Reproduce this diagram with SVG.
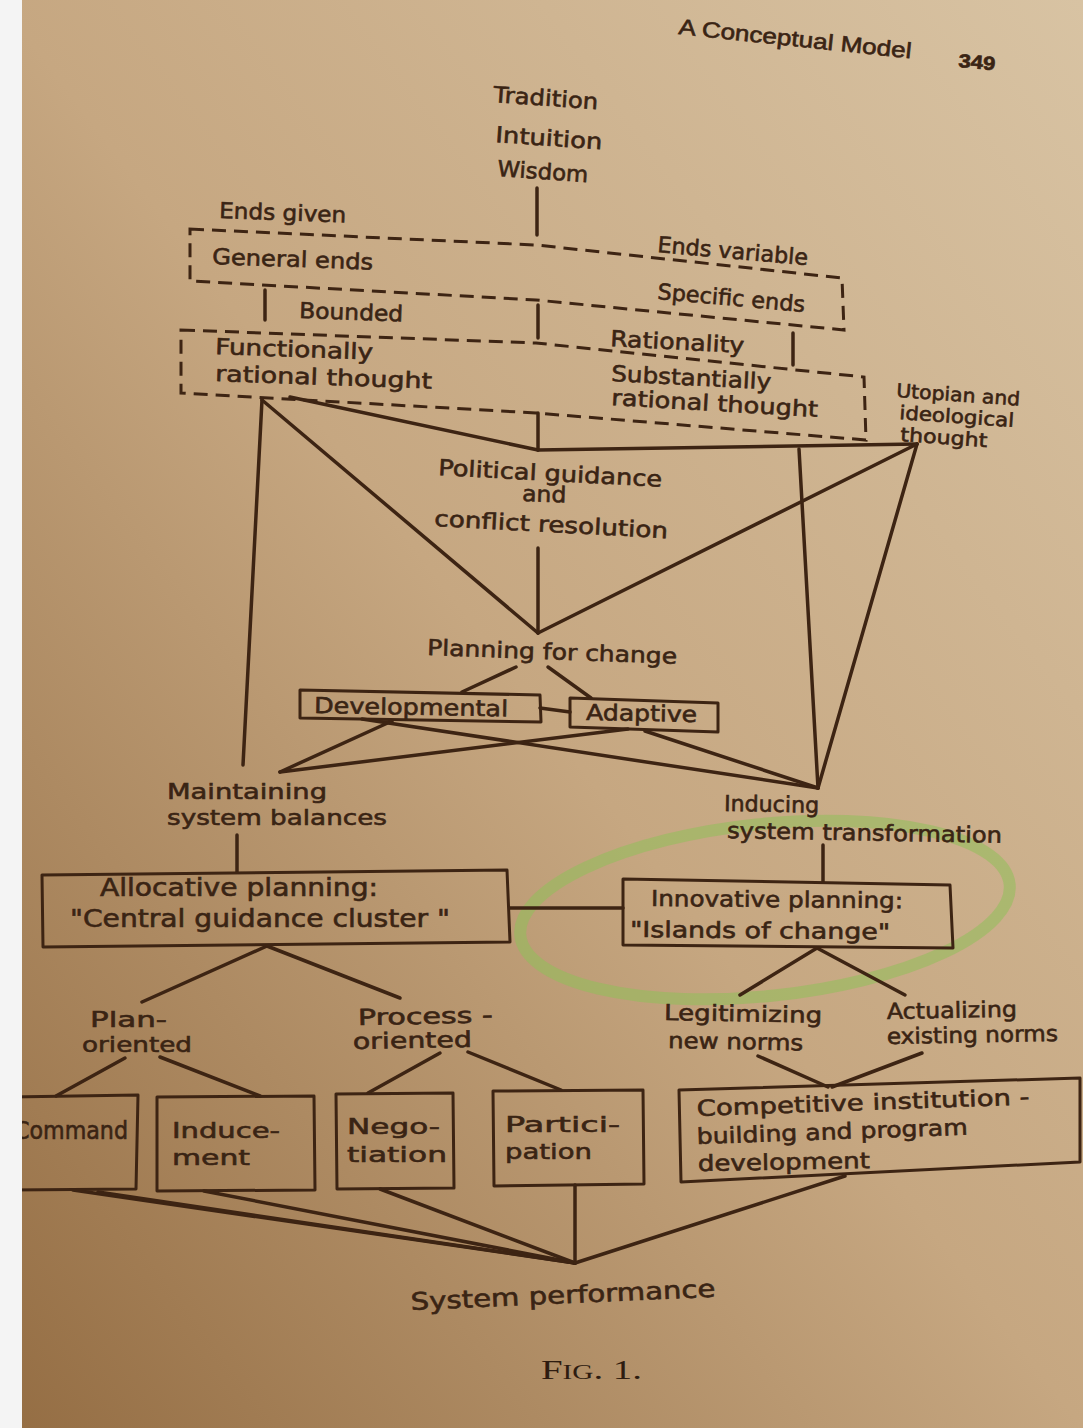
<svg xmlns="http://www.w3.org/2000/svg" width="1083" height="1428" viewBox="0 0 1083 1428">
<defs>
<linearGradient id="page" x1="1" y1="0" x2="0" y2="1">
<stop offset="0" stop-color="#d8c3a3"/>
<stop offset="0.5" stop-color="#c6a781"/>
<stop offset="1" stop-color="#946d43"/>
</linearGradient>
<style>
.t{font-family:"DejaVu Sans","Liberation Sans",sans-serif;font-size:22px;fill:#3a2414;stroke:#3a2414;stroke-width:0.6;}
.s{font-size:19px;}
.b{font-size:24px;}
.ln{stroke:#3d2413;stroke-width:3.5;fill:none;stroke-linecap:round;stroke-linejoin:round;}
.box{stroke:#3d2413;stroke-width:3;fill:none;stroke-linejoin:round;}
.dash{stroke:#3d2413;stroke-width:3;fill:none;stroke-dasharray:14 8;}
</style>
</defs>
<rect x="0" y="0" width="1083" height="1428" fill="url(#page)"/>

<g id="header">
<text class="t" x="678" y="34" textLength="234" lengthAdjust="spacingAndGlyphs" transform="rotate(6 678 34)" style="font-family:'Liberation Sans',sans-serif">A Conceptual Model</text>
<text class="t" x="958" y="67" textLength="37" lengthAdjust="spacingAndGlyphs" transform="rotate(5 958 67)" style="font-family:'Liberation Sans',sans-serif;font-weight:bold;font-size:19px">349</text>
</g>

<g id="green-loop">
<ellipse cx="765" cy="910" rx="246" ry="86" transform="rotate(-6 765 910)" fill="none" stroke="#8fbf5a" stroke-width="12" stroke-opacity="0.55"/>
</g>

<g id="connectors">
<line class="ln" x1="537" y1="188" x2="537" y2="235"/>
<line class="ln" x1="265" y1="290" x2="265" y2="320"/>
<line class="ln" x1="538" y1="305" x2="538" y2="338"/>
<line class="ln" x1="793" y1="333" x2="793" y2="365"/>
<line class="ln" x1="262" y1="400" x2="243" y2="765"/>
<line class="ln" x1="262" y1="400" x2="538" y2="633"/>
<line class="ln" x1="290" y1="397" x2="538" y2="450"/>
<line class="ln" x1="538" y1="413" x2="538" y2="450"/>
<line class="ln" x1="538" y1="450" x2="917" y2="444"/>
<line class="ln" x1="799" y1="449" x2="818" y2="788"/>
<line class="ln" x1="917" y1="444" x2="818" y2="788"/>
<line class="ln" x1="917" y1="444" x2="538" y2="633"/>
<line class="ln" x1="538" y1="548" x2="538" y2="633"/>
<line class="ln" x1="516" y1="667" x2="462" y2="692"/>
<line class="ln" x1="548" y1="667" x2="591" y2="698"/>
<line class="ln" x1="540" y1="708" x2="570" y2="712"/>
<line class="ln" x1="392" y1="721" x2="280" y2="772"/>
<line class="ln" x1="362" y1="719" x2="818" y2="788"/>
<line class="ln" x1="628" y1="729" x2="280" y2="772"/>
<line class="ln" x1="645" y1="731" x2="818" y2="788"/>
<line class="ln" x1="237" y1="835" x2="237" y2="872"/>
<line class="ln" x1="823" y1="845" x2="823" y2="882"/>
<line class="ln" x1="510" y1="908" x2="623" y2="908"/>
<line class="ln" x1="267" y1="946" x2="142" y2="1002"/>
<line class="ln" x1="267" y1="946" x2="400" y2="998"/>
<line class="ln" x1="817" y1="948" x2="740" y2="995"/>
<line class="ln" x1="817" y1="948" x2="905" y2="995"/>
<line class="ln" x1="125" y1="1058" x2="56" y2="1096"/>
<line class="ln" x1="160" y1="1057" x2="260" y2="1096"/>
<line class="ln" x1="440" y1="1053" x2="368" y2="1093"/>
<line class="ln" x1="468" y1="1052" x2="561" y2="1090"/>
<line class="ln" x1="758" y1="1056" x2="828" y2="1087"/>
<line class="ln" x1="922" y1="1053" x2="832" y2="1087"/>
<line class="ln" x1="73" y1="1190" x2="575" y2="1263"/>
<line class="ln" x1="98" y1="1192" x2="575" y2="1263"/>
<line class="ln" x1="204" y1="1191" x2="575" y2="1263"/>
<line class="ln" x1="380" y1="1189" x2="575" y2="1263"/>
<line class="ln" x1="575" y1="1185" x2="575" y2="1263"/>
<line class="ln" x1="845" y1="1176" x2="575" y2="1263"/>
</g>

<g id="n-sources">
<text class="t" x="493" y="102" textLength="105" lengthAdjust="spacingAndGlyphs" transform="rotate(4 493 102)">Tradition</text>
<text class="t" x="495" y="142" textLength="107" lengthAdjust="spacingAndGlyphs" transform="rotate(4 495 142)">Intuition</text>
<text class="t" x="497" y="176" textLength="91" lengthAdjust="spacingAndGlyphs" transform="rotate(4 497 176)">Wisdom</text>
</g>

<g id="n-ends">
<path class="dash" d="M190,229 L536,245 L842,278 L844,330 L536,300 L190,281 Z"/>
<text class="t" x="219" y="218" textLength="127" lengthAdjust="spacingAndGlyphs" transform="rotate(2 219 218)">Ends given</text>
<text class="t" x="212" y="264" textLength="161" lengthAdjust="spacingAndGlyphs" transform="rotate(2 212 264)">General ends</text>
<text class="t" x="657" y="252" textLength="151" lengthAdjust="spacingAndGlyphs" transform="rotate(5 657 252)">Ends variable</text>
<text class="t" x="657" y="299" textLength="148" lengthAdjust="spacingAndGlyphs" transform="rotate(5 657 299)">Specific ends</text>
</g>

<g id="n-rationality">
<path class="dash" d="M181,330 L536,343 L864,377 L866,440 L536,413 L181,393 Z"/>
<text class="t" x="299" y="318" textLength="104" lengthAdjust="spacingAndGlyphs" transform="rotate(2 299 318)">Bounded</text>
<text class="t" x="215" y="354" textLength="158" lengthAdjust="spacingAndGlyphs" transform="rotate(2 215 354)">Functionally</text>
<text class="t" x="215" y="381" textLength="217" lengthAdjust="spacingAndGlyphs" transform="rotate(2 215 381)">rational thought</text>
<text class="t" x="610" y="346" textLength="134" lengthAdjust="spacingAndGlyphs" transform="rotate(3 610 346)">Rationality</text>
<text class="t" x="611" y="381" textLength="160" lengthAdjust="spacingAndGlyphs" transform="rotate(3 611 381)">Substantially</text>
<text class="t" x="611" y="405" textLength="207" lengthAdjust="spacingAndGlyphs" transform="rotate(3.3 611 405)">rational thought</text>
</g>

<g id="n-utopian">
<text class="t s" x="896" y="397" textLength="124" lengthAdjust="spacingAndGlyphs" transform="rotate(4 896 397)">Utopian and</text>
<text class="t s" x="899" y="419" textLength="115" lengthAdjust="spacingAndGlyphs" transform="rotate(4 899 419)">ideological</text>
<text class="t s" x="900" y="441" textLength="87" lengthAdjust="spacingAndGlyphs" transform="rotate(4 900 441)">thought</text>
</g>

<g id="n-political">
<text class="t" x="438" y="475" textLength="224" lengthAdjust="spacingAndGlyphs" transform="rotate(3 438 475)">Political guidance</text>
<text class="t" x="522" y="501" textLength="44" lengthAdjust="spacingAndGlyphs" transform="rotate(2 522 501)">and</text>
<text class="t" x="434" y="526" textLength="234" lengthAdjust="spacingAndGlyphs" transform="rotate(3 434 526)">conflict resolution</text>
</g>

<g id="n-planning">
<text class="t" x="427" y="655" textLength="250" lengthAdjust="spacingAndGlyphs" transform="rotate(2 427 655)">Planning for change</text>
</g>

<g id="n-developmental">
<path class="box" d="M300,690 L540,695 L541,722 L300,718 Z"/>
<text class="t" x="314" y="713" textLength="194" lengthAdjust="spacingAndGlyphs" transform="rotate(1 314 713)">Developmental</text>
</g>

<g id="n-adaptive">
<path class="box" d="M570,698 L718,703 L718,732 L570,727 Z"/>
<text class="t" x="586" y="720" textLength="111" lengthAdjust="spacingAndGlyphs" transform="rotate(1 586 720)">Adaptive</text>
</g>

<g id="n-maintaining">
<text class="t" x="167" y="799" textLength="160" lengthAdjust="spacingAndGlyphs">Maintaining</text>
<text class="t" x="167" y="825" textLength="220" lengthAdjust="spacingAndGlyphs">system balances</text>
</g>

<g id="n-inducing">
<text class="t" x="724" y="811" textLength="95" lengthAdjust="spacingAndGlyphs" transform="rotate(1 724 811)">Inducing</text>
<text class="t" x="727" y="838" textLength="275" lengthAdjust="spacingAndGlyphs" transform="rotate(1 727 838)">system transformation</text>
</g>

<g id="n-allocative">
<path class="box" d="M42,875 L507,870 L510,942 L43,947 Z"/>
<text class="t b" x="100" y="896" textLength="278" lengthAdjust="spacingAndGlyphs">Allocative planning:</text>
<text class="t b" x="70" y="927" textLength="380" lengthAdjust="spacingAndGlyphs">"Central guidance cluster "</text>
</g>

<g id="n-innovative">
<path class="box" d="M623,879 L950,885 L953,948 L623,945 Z"/>
<text class="t" x="651" y="906" textLength="252" lengthAdjust="spacingAndGlyphs" transform="rotate(0.5 651 906)">Innovative planning:</text>
<text class="t" x="630" y="937" textLength="260" lengthAdjust="spacingAndGlyphs" transform="rotate(0.5 630 937)">"Islands of change"</text>
</g>

<g id="n-plan-oriented">
<text class="t" x="90" y="1027" textLength="77" lengthAdjust="spacingAndGlyphs">Plan-</text>
<text class="t" x="82" y="1052" textLength="110" lengthAdjust="spacingAndGlyphs">oriented</text>
</g>

<g id="n-process-oriented">
<text class="t" x="358" y="1025" textLength="135" lengthAdjust="spacingAndGlyphs" transform="rotate(-1 358 1025)">Process -</text>
<text class="t" x="353" y="1049" textLength="119" lengthAdjust="spacingAndGlyphs" transform="rotate(-1 353 1049)">oriented</text>
</g>

<g id="n-legitimizing">
<text class="t" x="664" y="1020" textLength="158" lengthAdjust="spacingAndGlyphs" transform="rotate(1 664 1020)">Legitimizing</text>
<text class="t" x="668" y="1048" textLength="135" lengthAdjust="spacingAndGlyphs" transform="rotate(1 668 1048)">new norms</text>
</g>

<g id="n-actualizing">
<text class="t" x="887" y="1019" textLength="130" lengthAdjust="spacingAndGlyphs" transform="rotate(-1 887 1019)">Actualizing</text>
<text class="t" x="887" y="1044" textLength="171" lengthAdjust="spacingAndGlyphs" transform="rotate(-1 887 1044)">existing norms</text>
</g>

<g id="n-command">
<path class="box" d="M10,1097 L138,1095 L136,1189 L10,1190"/>
<text class="t" x="14" y="1139" textLength="114" lengthAdjust="spacingAndGlyphs" style="font-size:24px">Command</text>
</g>

<g id="n-inducement">
<path class="box" d="M157,1097 L314,1096 L315,1190 L157,1191 Z"/>
<text class="t" x="172" y="1138" textLength="108" lengthAdjust="spacingAndGlyphs">Induce-</text>
<text class="t" x="172" y="1165" textLength="78" lengthAdjust="spacingAndGlyphs">ment</text>
</g>

<g id="n-negotiation">
<path class="box" d="M336,1094 L453,1093 L454,1188 L337,1189 Z"/>
<text class="t" x="347" y="1134" textLength="93" lengthAdjust="spacingAndGlyphs">Nego-</text>
<text class="t" x="347" y="1162" textLength="100" lengthAdjust="spacingAndGlyphs">tiation</text>
</g>

<g id="n-participation">
<path class="box" d="M493,1091 L643,1090 L644,1184 L494,1186 Z"/>
<text class="t" x="505" y="1132" textLength="115" lengthAdjust="spacingAndGlyphs">Partici-</text>
<text class="t" x="505" y="1159" textLength="87" lengthAdjust="spacingAndGlyphs">pation</text>
</g>

<g id="n-competitive">
<path class="box" d="M679,1090 L1080,1078 L1080,1162 L681,1182 Z"/>
<text class="t" x="697" y="1116" textLength="333" lengthAdjust="spacingAndGlyphs" transform="rotate(-2 697 1116)">Competitive institution -</text>
<text class="t" x="697" y="1144" textLength="271" lengthAdjust="spacingAndGlyphs" transform="rotate(-2 697 1144)">building and program</text>
<text class="t" x="698" y="1171" textLength="172" lengthAdjust="spacingAndGlyphs" transform="rotate(-1 698 1171)">development</text>
</g>

<g id="n-performance">
<text class="t b" x="411" y="1310" textLength="305" lengthAdjust="spacingAndGlyphs" transform="rotate(-2.5 411 1310)">System performance</text>
</g>

<g id="caption">
<text x="541" y="1379" textLength="101" lengthAdjust="spacingAndGlyphs" style="font-family:'Liberation Serif',serif;font-size:28px;fill:#2e1c10">F<tspan font-size="21">IG</tspan>. 1.</text>
</g>

<rect x="0" y="0" width="22" height="1428" fill="#f4f4f4"/>
</svg>
